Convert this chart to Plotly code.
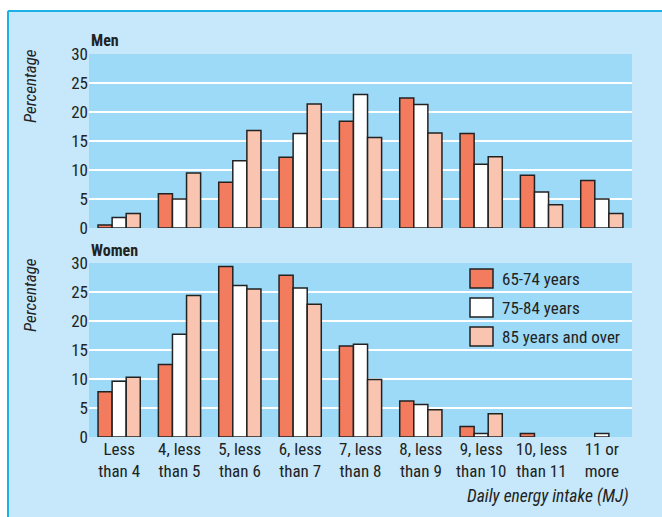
import plotly.graph_objects as go

# Daily energy intake bands (MJ)
categories = ["Less<br>than 4", "4, less<br>than 5", "5, less<br>than 6", "6, less<br>than 7",
              "7, less<br>than 8", "8, less<br>than 9", "9, less<br>than 10", "10, less<br>than 11",
              "11 or<br>more"]
age_groups = ["65-74 years", "75-84 years", "85 years and over"]

# Percentage of each age group in each intake band
men_65_74 = [0.5, 5.9, 7.9, 12.2, 18.4, 22.4, 16.3, 9.1, 8.2]
men_75_84 = [1.8, 5.0, 11.6, 16.3, 23.0, 21.3, 11.0, 6.2, 5.0]
men_85_plus = [2.5, 9.5, 16.8, 21.4, 15.6, 16.4, 12.3, 4.0, 2.5]

women_65_74 = [7.8, 12.5, 29.4, 27.9, 15.7, 6.2, 1.8, 0.6, 0.0]
women_75_84 = [9.6, 17.7, 26.1, 25.7, 16.0, 5.6, 0.6, 0.0, 0.6]
women_85_plus = [10.3, 24.4, 25.5, 22.9, 9.9, 4.7, 4.0, 0.0, 0.0]

y_ticks = [0, 5, 10, 15, 20, 25, 30]

colors = ["#f37b5e", "#ffffff", "#f9c5b1"]
FONT = "Liberation Sans Narrow, Arial Narrow, Roboto Condensed, Liberation Sans, sans-serif"
panel_bg = "#c6e8fa"
plot_bg = "#9ddaf7"
frame = "#1fb0e6"
ink = "#222222"

W, H = 662, 517
ML, MR, MT, MB = 89, 30, 54, 80
pw, ph = W - ML - MR, H - MT - MB


def px_x(x):
    return (x - ML) / pw


def px_y(y):
    return (H - MB - y) / ph


fig = go.Figure()

men = [men_65_74, men_75_84, men_85_plus]
women = [women_65_74, women_75_84, women_85_plus]


def bar(values, i, xa, ya):
    # empty categories get no outline so nothing is drawn for them
    widths = [1.5 if v > 0 else 0 for v in values]
    return go.Bar(x=categories, y=values, name=age_groups[i], marker_color=colors[i],
                  marker_line=dict(color=ink, width=widths),
                  xaxis=xa, yaxis=ya, showlegend=False)


for i in range(3):
    fig.add_trace(bar(men[i], i, "x", "y"))
for i in range(3):
    fig.add_trace(bar(women[i], i, "x2", "y2"))

top_lo = px_y(228)
bot_hi = px_y(263)

axis_y = dict(range=[0, 30], tickvals=y_ticks, showgrid=True, gridcolor="white", gridwidth=2,
              zeroline=False, showline=False, ticks="", tickfont=dict(family=FONT, size=17, color=ink),
              fixedrange=True)

fig.update_layout(
    width=W, height=H,
    margin=dict(l=ML, r=MR, t=MT, b=MB),
    paper_bgcolor=panel_bg,
    plot_bgcolor=plot_bg,
    barmode="group",
    bargap=0.3,
    bargroupgap=0,
    font=dict(family=FONT, color=ink),
    xaxis=dict(domain=[0, 1], anchor="y", showticklabels=False, showgrid=False, ticks="", showline=False),
    yaxis=dict(domain=[top_lo, 1], anchor="x", **axis_y),
    xaxis2=dict(domain=[0, 1], anchor="y2", showgrid=False, ticks="", showline=False,
                tickfont=dict(family=FONT, size=17, color=ink)),
    yaxis2=dict(domain=[0, bot_hi], anchor="x2", **axis_y),
    showlegend=False,
)

# White surround and blue frame lines of the panel
fig.add_shape(type="rect", xref="paper", yref="paper", x0=px_x(0), x1=px_x(W), y0=px_y(11), y1=px_y(0),
              fillcolor="white", line_width=0, layer="below")
fig.add_shape(type="rect", xref="paper", yref="paper", x0=px_x(0), x1=px_x(8), y0=px_y(H), y1=px_y(0),
              fillcolor="white", line_width=0, layer="below")
fig.add_shape(type="line", xref="paper", yref="paper", x0=px_x(8), x1=px_x(W), y0=px_y(11), y1=px_y(11),
              line=dict(color=frame, width=2))
fig.add_shape(type="line", xref="paper", yref="paper", x0=px_x(8), x1=px_x(8), y0=px_y(11), y1=px_y(H),
              line=dict(color=frame, width=2))

# Key for the age groups, inside the women's panel
for i, name in enumerate(age_groups):
    yc = 278.5 + 29 * i
    fig.add_shape(type="rect", xref="paper", yref="paper",
                  x0=px_x(470), x1=px_x(493), y0=px_y(yc + 9.5), y1=px_y(yc - 9.5),
                  fillcolor=colors[i], line=dict(color=ink, width=1.5))
    fig.add_annotation(xref="paper", yref="paper", showarrow=False, text=name,
                       x=px_x(500), y=px_y(yc), xanchor="left", yanchor="middle",
                       font=dict(family=FONT, size=17, color=ink))

ann = [
    dict(text="<b>Men</b>", x=px_x(89), y=px_y(40), xanchor="left", yanchor="middle", font_size=16),
    dict(text="<b>Women</b>", x=px_x(89), y=px_y(250), xanchor="left", yanchor="middle", font_size=16),
    dict(text="<i>Percentage</i>", x=px_x(30), y=px_y(86), textangle=-90, xanchor="center",
         yanchor="middle", font_size=17),
    dict(text="<i>Percentage</i>", x=px_x(30), y=px_y(295), textangle=-90, xanchor="center",
         yanchor="middle", font_size=17),
    dict(text="<i>Daily energy intake (MJ)</i>", x=px_x(631), y=px_y(497), xanchor="right",
         yanchor="middle", font_size=17.5),
]
for a in ann:
    fig.add_annotation(xref="paper", yref="paper", showarrow=False,
                       font=dict(family=FONT, size=a.pop("font_size"), color=ink), **a)

fig.write_html("out.html")
